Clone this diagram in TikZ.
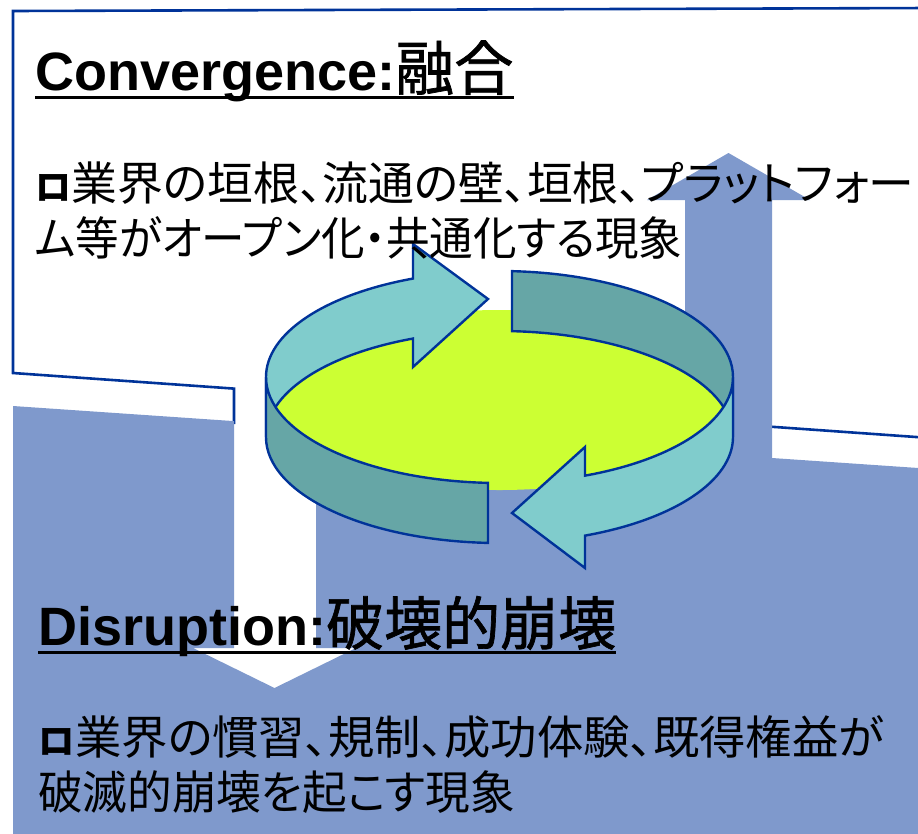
\documentclass[tikz,border=0pt]{standalone}
\usepackage{fontspec}
\usetikzlibrary{calc}
\setmainfont{Liberation Sans}
\newfontfamily\jpfont[RawFeature=+palt]{Noto Sans CJK JP}
\newfontfamily\jptitle[FakeBold=1.2]{Noto Sans CJK JP}
\newcommand{\boxbullet}{{\fontsize{36}{36}\selectfont\bfseries ロ}}

\definecolor{panelblue}{RGB}{127,153,204}
\definecolor{rimblue}{RGB}{0,51,153}
\definecolor{tealhi}{RGB}{128,204,204}
\definecolor{tealsh}{RGB}{102,166,166}
\definecolor{discgreen}{RGB}{204,255,51}

\begin{document}
\begin{tikzpicture}[x=1pt,y=-1pt,
  panelrim/.style={draw=rimblue, line width=2.6pt, line join=miter},
  rim/.style={draw=rimblue, line width=2.4pt, line join=miter},
  bandlight/.style={rim, fill=tealhi},
  banddark/.style={rim, fill=tealsh},
  txt/.style={anchor=base west, inner sep=0pt},
  heading/.style={txt, font=\fontsize{54}{60}\selectfont\bfseries},
  body/.style={txt, font=\jpfont\fontsize{46}{50}\selectfont},
  underbar/.style={line width=3pt}
]
\useasboundingbox (0,0) rectangle (918,833);

% upper (white) panel with its downward arrow: outline only where it shows
\fill[white] (13,11) -- (930,8) -- (930,438) -- (316,394.4) -- (316,648) -- (356,648)
  -- (274.5,688) -- (193,648) -- (234,648) -- (234,388.6) -- (13,373) -- cycle;
\draw[panelrim] (234,424) -- (234,388.6) -- (13,373) -- (13,11) -- (930,8);
\draw[panelrim] (930,438) -- (316,394.4) -- (316,430);

% lower (blue) panel with its upward arrow, leaving the white arrow open
\fill[panelblue] (13,406) -- (234,421.1) -- (234,648) -- (193,648) -- (274.5,688)
  -- (356,648) -- (316,648) -- (316,426.8) -- (685,452) -- (685,200) -- (647,200)
  -- (728.5,153) -- (810,200) -- (772,200) -- (772,458) -- (930,468.8)
  -- (930,840) -- (13,840) -- cycle;

% cycle of two arrows wrapped round a disc
\fill[discgreen] (499.5,400) ellipse[x radius=232, y radius=90];
% back wall: head of the left arrow
\path[bandlight] (266,377) arc[start angle=180, end angle=248.26, x radius=233.5, y radius=106]
  -- (413,244) -- (488,299) -- (413,367) -- (413,338.55)
  arc[start angle=248.26, end angle=180, x radius=233.5, y radius=106] -- cycle;
% back wall: tail of the right arrow
\path[banddark] (512,271.15) arc[start angle=273.07, end angle=360, x radius=233.5, y radius=106]
  -- (733,437) arc[start angle=360, end angle=273.07, x radius=233.5, y radius=106] -- cycle;
% front wall: tail of the left arrow
\path[banddark] (266,377) arc[start angle=180, end angle=92.82, x radius=233.5, y radius=106]
  -- (488,542.9) arc[start angle=92.82, end angle=180, x radius=233.5, y radius=106] -- cycle;
% front wall: head of the right arrow
\path[bandlight] (733,377) arc[start angle=0, end angle=68.52, x radius=233.5, y radius=106]
  -- (585,447) -- (512,513) -- (585,568) -- (585,535.6)
  arc[start angle=68.52, end angle=0, x radius=233.5, y radius=106] -- cycle;

% texts
\node[heading] (conv) at (35,90) {Convergence:{\jptitle\mdseries\fontsize{59}{60}\selectfont 融合}};
\draw[underbar] ($(conv.base west)+(0,7)$) -- ($(conv.base east)+(0,7)$);
\node[body] (c1) at (35,200) {\scalebox{0.997}[1]{\boxbullet 業界の垣根、流通の壁、垣根、プラットフォー}};
\node[body] (c2) at (35,255) {\scalebox{0.946}[1]{ム等がオープン化・共通化する現象}};

\node[heading] (disr) at (38,645) {Disruption:{\jptitle\mdseries\fontsize{58}{60}\selectfont 破壊的崩壊}};
\draw[underbar] ($(disr.base west)+(0,7)$) -- ($(disr.base east)+(0,7)$);
\node[body] (d1) at (38,754) {\scalebox{1.008}[1]{\boxbullet 業界の慣習、規制、成功体験、既得権益が}};
\node[body] (d2) at (38,809) {\scalebox{0.971}[1]{破滅的崩壊を起こす現象}};
\end{tikzpicture}
\end{document}
